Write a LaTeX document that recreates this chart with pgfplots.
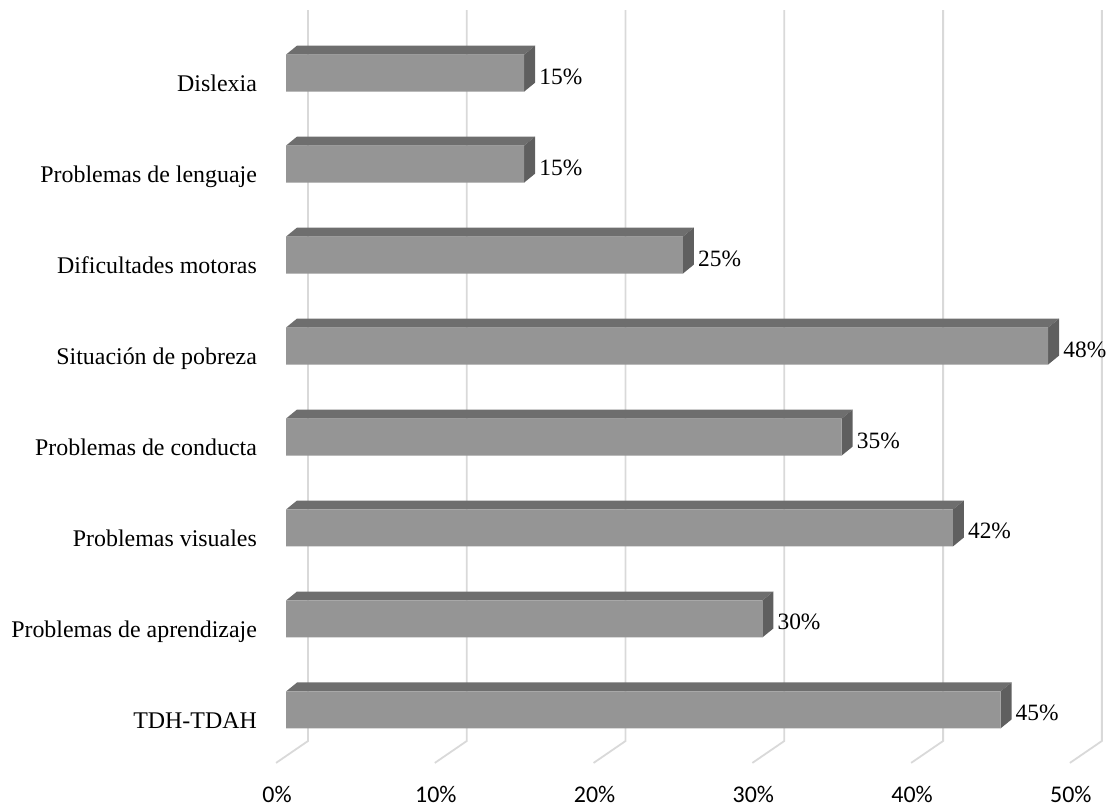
\documentclass[border=0pt]{standalone}
\usepackage{pgfplots}
\usepackage{pgfplotstable}
\pgfplotsset{compat=1.18}
\usepackage{fontspec}
\setmainfont{Liberation Serif}
\newfontfamily\carlito{Carlito}
\definecolor{frontc}{HTML}{959595}
\definecolor{topc}{HTML}{6E6E6E}
\definecolor{sidec}{HTML}{5F5F5F}
\definecolor{gridc}{HTML}{D9D9D9}

\pgfplotstableread{
pos val
0 45
1 30
2 42
3 35
4 48
5 25
6 15
7 15
}\bardata

\begin{document}
\begin{tikzpicture}
\begin{axis}[
  width=1110bp, height=808bp, scale only axis,
  xmin=-18.01, xmax=51.89, ymin=-1.077, ymax=7.802,
  clip=false,
  axis line style={draw=none},
  major tick length=0pt,
  xtick={0,10,20,30,40,50},
  xticklabels={0\%,10\%,20\%,30\%,40\%,50\%},
  xticklabel style={font=\carlito\fontsize{24}{28}\selectfont, anchor=base, inner sep=0pt, xshift=-9bp, yshift=5bp},
  ytick={0,1,2,3,4,5,6,7},
  yticklabels={TDH-TDAH,Problemas de aprendizaje,Problemas visuales,Problemas de conducta,Situación de pobreza,Dificultades motoras,Problemas de lenguaje,Dislexia},
  yticklabel style={font=\fontsize{24}{28}\selectfont, anchor=base east, inner sep=0pt, xshift=257bp, yshift=-18.5bp},
  /pgf/number format/assume math mode=true,
]
\path (rel axis cs:0,0) rectangle (rel axis cs:1,1);
% back-wall gridlines with floor diagonals
\draw[gridc, line width=1.8bp] (axis cs:1.385,7.692) -- (axis cs:1.385,-0.341) -- (axis cs:-0.63,-0.582);
\draw[gridc, line width=1.8bp] (axis cs:11.385,7.692) -- (axis cs:11.385,-0.341) -- (axis cs:9.37,-0.582);
\draw[gridc, line width=1.8bp] (axis cs:21.385,7.692) -- (axis cs:21.385,-0.341) -- (axis cs:19.37,-0.582);
\draw[gridc, line width=1.8bp] (axis cs:31.385,7.692) -- (axis cs:31.385,-0.341) -- (axis cs:29.37,-0.582);
\draw[gridc, line width=1.8bp] (axis cs:41.385,7.692) -- (axis cs:41.385,-0.341) -- (axis cs:39.37,-0.582);
\draw[gridc, line width=1.8bp] (axis cs:51.385,7.692) -- (axis cs:51.385,-0.341) -- (axis cs:49.37,-0.582);

% top and side faces of the 3D bars
\pgfplotsinvokeforeach{0,...,7}{
  \pgfplotstablegetelem{#1}{val}\of\bardata
  \let\v\pgfplotsretval
  \edef\tmp{%
    \noexpand\addplot[fill=topc, draw=none, forget plot] coordinates {(0,{#1+0.2033}) (0.693,{#1+0.302}) ({\v+0.693},{#1+0.302}) ({\v},{#1+0.2033})};
    \noexpand\addplot[fill=sidec, draw=none, forget plot] coordinates {({\v},{#1-0.2033}) ({\v},{#1+0.2033}) ({\v+0.693},{#1+0.302}) ({\v+0.693},{#1-0.1044})};
  }\tmp
}

% front faces
\addplot[xbar, bar width=37bp, fill=frontc, draw=none,
  point meta=x,
  nodes near coords={\pgfmathprintnumber{\pgfplotspointmeta}\%},
  nodes near coords style={font=\fontsize{23.5}{28}\selectfont, anchor=base west, inner sep=0pt, xshift=15bp, yshift=-11bp, text=black},
] table[x=val, y=pos] {\bardata};
\end{axis}
\end{tikzpicture}
\end{document}
